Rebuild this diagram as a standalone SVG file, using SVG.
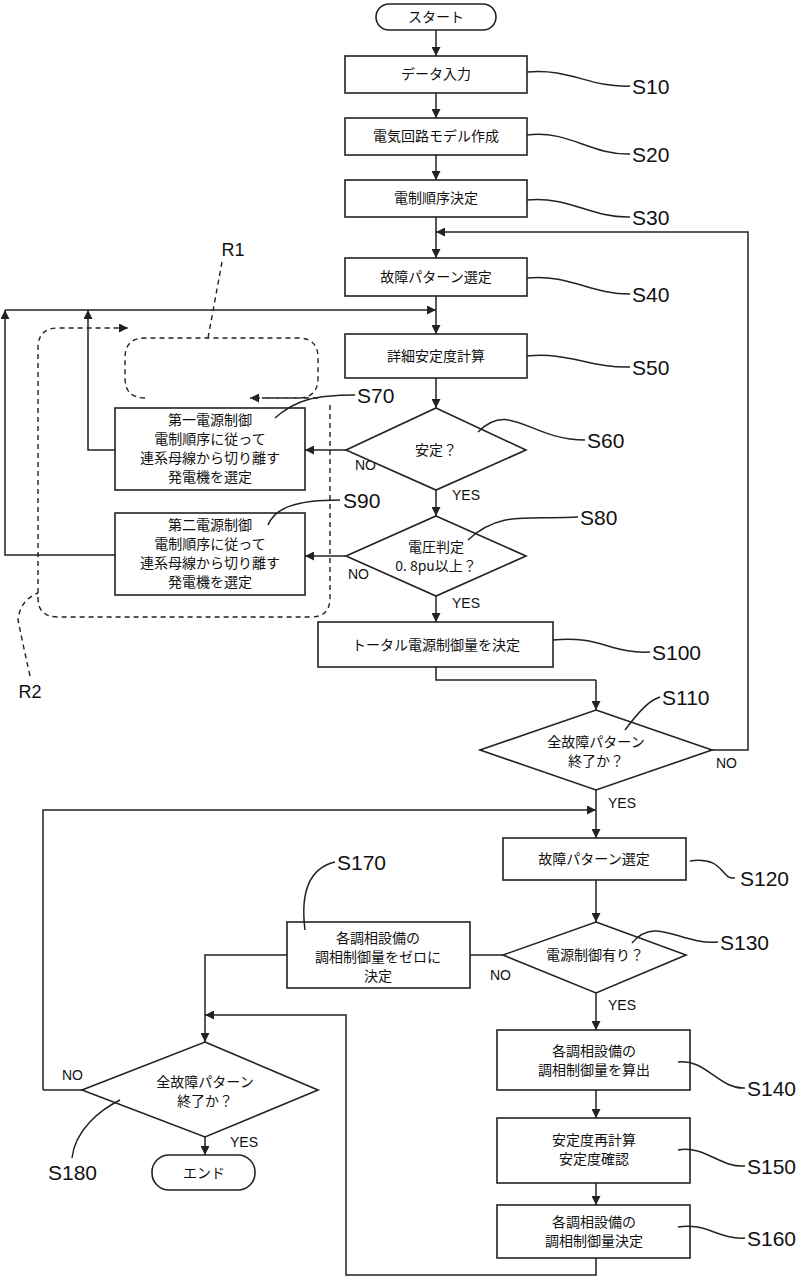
<svg xmlns="http://www.w3.org/2000/svg" width="800" height="1283" viewBox="0 0 800 1283">
<style>
.b{fill:#fff;stroke:#222;stroke-width:1.6}
.l{fill:none;stroke:#222;stroke-width:1.5}
.d{fill:none;stroke:#222;stroke-width:1.4;stroke-dasharray:5,4}
text{font-family:"Noto Sans CJK JP","Liberation Sans",sans-serif;font-size:14px;fill:#111;text-anchor:middle}
.s{font-family:"Liberation Sans",sans-serif;font-size:21px;text-anchor:start}
.y{font-family:"Liberation Sans",sans-serif;font-size:14px;text-anchor:start}
</style>
<defs><marker id="a" viewBox="0 0 10 10" refX="10" refY="5" markerWidth="9" markerHeight="9" markerUnits="userSpaceOnUse" orient="auto"><path d="M0,0L10,5L0,10z" fill="#222"/></marker></defs>
<g id="connectors">
<path class="l" marker-end="url(#a)" d="M436,30V56"/>
<path class="l" marker-end="url(#a)" d="M436,93V118"/>
<path class="l" marker-end="url(#a)" d="M436,155V180"/>
<path class="l" marker-end="url(#a)" d="M436,217V258"/>
<path class="l" marker-end="url(#a)" d="M436,296V334"/>
<path class="l" marker-end="url(#a)" d="M436,378V408"/>
<path class="l" marker-end="url(#a)" d="M436,490V516"/>
<path class="l" marker-end="url(#a)" d="M436,596V622"/>
<path class="l" marker-end="url(#a)" d="M346,450H305"/>
<path class="l" marker-end="url(#a)" d="M346,556H305"/>
<path class="l" marker-end="url(#a)" d="M115,450H88V310"/>
<path class="l" marker-end="url(#a)" d="M115,555H5V310"/>
<path class="l" marker-end="url(#a)" d="M5,310H436"/>
<path class="l" d="M436,667V680H596"/>
<path class="l" marker-end="url(#a)" d="M596,680V710"/>
<path class="l" marker-end="url(#a)" d="M712,750H748V232H436"/>
<path class="l" marker-end="url(#a)" d="M596,790V838"/>
<path class="l" marker-end="url(#a)" d="M43,1090V810H596"/>
<path class="l" marker-end="url(#a)" d="M596,880V922"/>
<path class="l" d="M503,955H470"/>
<path class="l" marker-end="url(#a)" d="M287,955H205V1042"/>
<path class="l" marker-end="url(#a)" d="M596,993V1030"/>
<path class="l" marker-end="url(#a)" d="M596,1090V1118"/>
<path class="l" marker-end="url(#a)" d="M596,1183V1205"/>
<path class="l" marker-end="url(#a)" d="M596,1258V1275H346V1015H205"/>
<path class="l" d="M82,1090H43"/>
<path class="l" marker-end="url(#a)" d="M205,1128V1155"/>
<path class="d" d="M145,398Q125,398 125,378V358Q125,338 145,338H298Q318,338 318,358V378Q318,398 298,398H250" marker-end="url(#a)"/>
<path class="d" d="M318,398H262"/>
<path class="d" d="M330,405V598Q330,617 311,617H58Q38,617 38,598V348Q38,328 58,328H128" marker-end="url(#a)"/>
<path class="d" d="M222,262L208,338"/>
<path class="d" d="M30,676Q22,640 18,620Q20,600 38,593"/>
</g>
<g id="labels">
<text x="233" y="256" class="s" style="text-anchor:middle;font-size:18px">R1</text>
<text x="30" y="698" class="s" style="text-anchor:middle;font-size:18px">R2</text>
<text x="355" y="470" class="y">NO</text><text x="452" y="500" class="y">YES</text>
<text x="348" y="579" class="y">NO</text><text x="452" y="608" class="y">YES</text>
<text x="716" y="768" class="y">NO</text><text x="608" y="808" class="y">YES</text>
<text x="490" y="980" class="y">NO</text><text x="608" y="1010" class="y">YES</text>
<text x="62" y="1080" class="y">NO</text><text x="230" y="1147" class="y">YES</text>
</g>
<g id="start"><rect class="b" x="376" y="4" width="120" height="26" rx="13"/><text x="436" y="22">スタート</text></g>
<g id="S10"><rect class="b" x="345" y="56" width="182" height="37"/><text x="436" y="79">データ入力</text><path class="l" d="M527,72C570,68 590,88 630,86"/><text class="s" x="632" y="94">S10</text></g>
<g id="S20"><rect class="b" x="345" y="118" width="182" height="37"/><text x="436" y="141">電気回路モデル作成</text><path class="l" d="M527,135C570,130 590,155 630,154"/><text class="s" x="632" y="162">S20</text></g>
<g id="S30"><rect class="b" x="345" y="180" width="182" height="37"/><text x="436" y="203">電制順序決定</text><path class="l" d="M527,200C570,196 590,218 630,217"/><text class="s" x="632" y="225">S30</text></g>
<g id="S40"><rect class="b" x="345" y="258" width="182" height="38"/><text x="436" y="282">故障パターン選定</text><path class="l" d="M527,278C570,274 590,294 630,294"/><text class="s" x="632" y="302">S40</text></g>
<g id="S50"><rect class="b" x="345" y="334" width="182" height="44"/><text x="436" y="361">詳細安定度計算</text><path class="l" d="M527,356C570,352 590,368 630,367"/><text class="s" x="632" y="375">S50</text></g>
<g id="S60"><path class="b" d="M436,408L526,450L436,490L346,450z"/><text x="436" y="455">安定？</text><path class="l" d="M478,432C510,400 530,440 585,440"/><text class="s" x="587" y="448">S60</text></g>
<g id="S70"><rect class="b" x="115" y="408" width="190" height="82"/><text x="210" y="425">第一電源制御</text><text x="210" y="444">電制順序に従って</text><text x="210" y="463">連系母線から切り離す</text><text x="210" y="482">発電機を選定</text><path class="l" d="M275,418C295,400 315,395 355,395"/><text class="s" x="357" y="403">S70</text></g>
<g id="S80"><path class="b" d="M436,516L526,556L436,596L346,556z"/><text x="436" y="552">電圧判定</text><text x="436" y="571">0. 8pu以上？</text><path class="l" d="M468,540C500,510 530,520 578,517"/><text class="s" x="580" y="525">S80</text></g>
<g id="S90"><rect class="b" x="115" y="513" width="190" height="82"/><text x="210" y="530">第二電源制御</text><text x="210" y="549">電制順序に従って</text><text x="210" y="568">連系母線から切り離す</text><text x="210" y="587">発電機を選定</text><path class="l" d="M268,525C275,508 295,500 340,500"/><text class="s" x="343" y="508">S90</text></g>
<g id="S100"><rect class="b" x="318" y="622" width="235" height="45"/><text x="436" y="650">トータル電源制御量を決定</text><path class="l" d="M553,640C600,635 610,654 650,652"/><text class="s" x="652" y="660">S100</text></g>
<g id="S110"><path class="b" d="M596,710L712,750L596,790L480,750z"/><text x="596" y="747">全故障パターン</text><text x="596" y="766">終了か？</text><path class="l" d="M625,730C640,710 650,700 660,697"/><text class="s" x="662" y="705">S110</text></g>
<g id="S120"><rect class="b" x="503" y="838" width="183" height="42"/><text x="594" y="864">故障パターン選定</text><path class="l" d="M690,861C725,856 720,880 735,878"/><text class="s" x="740" y="886">S120</text></g>
<g id="S130"><path class="b" d="M596,922L686,955L596,993L503,955z"/><text x="595" y="960">電源制御有り？</text><path class="l" d="M632,943C655,915 680,945 718,942"/><text class="s" x="720" y="950">S130</text></g>
<g id="S170"><rect class="b" x="287" y="922" width="183" height="66"/><text x="378" y="943">各調相設備の</text><text x="378" y="962">調相制御量をゼロに</text><text x="378" y="981">決定</text><path class="l" d="M305,930C300,890 310,868 335,862"/><text class="s" x="337" y="870">S170</text></g>
<g id="S140"><rect class="b" x="497" y="1030" width="193" height="60"/><text x="594" y="1056">各調相設備の</text><text x="594" y="1075">調相制御量を算出</text><path class="l" d="M678,1062C705,1058 720,1090 745,1088"/><text class="s" x="747" y="1096">S140</text></g>
<g id="S150"><rect class="b" x="497" y="1118" width="193" height="65"/><text x="594" y="1145">安定度再計算</text><text x="594" y="1164">安定度確認</text><path class="l" d="M678,1150C705,1145 720,1168 745,1166"/><text class="s" x="747" y="1174">S150</text></g>
<g id="S160"><rect class="b" x="497" y="1205" width="193" height="53"/><text x="594" y="1227">各調相設備の</text><text x="594" y="1246">調相制御量決定</text><path class="l" d="M678,1227C705,1222 720,1240 745,1238"/><text class="s" x="747" y="1246">S160</text></g>
<g id="S180"><path class="b" d="M205,1042L318,1090L205,1137L82,1090z"/><text x="205" y="1087">全故障パターン</text><text x="205" y="1106">終了か？</text><path class="l" d="M120,1100C100,1110 75,1130 72,1158"/><text class="s" x="48" y="1180">S180</text></g>
<g id="end"><rect class="b" x="152" y="1155" width="103" height="35" rx="17"/><text x="204" y="1178">エンド</text></g>
</svg>
